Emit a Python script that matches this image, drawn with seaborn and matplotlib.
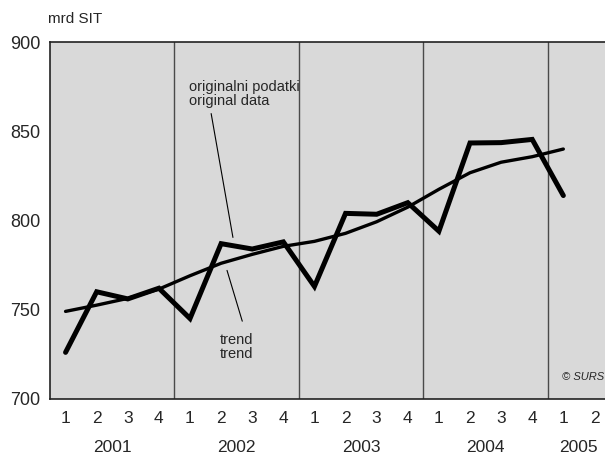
import numpy as np
import pandas as pd
import matplotlib
matplotlib.use("Agg")
import matplotlib.pyplot as plt
import matplotlib.transforms as mtransforms
import seaborn as sns

years = ["2001", "2002", "2003", "2004", "2005"]
quarters = ["1", "2", "3", "4", "1", "2", "3", "4", "1", "2", "3", "4",
            "1", "2", "3", "4", "1", "2"]
original = [726, 760, 756, 762, 745, 787, 784, 788, 763, 804, 803.5, 810,
            794, 843.5, 843.7, 845.5, 814]
trend = [749, 752.5, 756.3, 761.5, 769, 776, 781, 785.5, 788.3, 792.8, 799.3,
         807.5, 817.5, 826.8, 832.7, 835.8, 840.1]

sns.set_style("white")
plt.rcParams['font.family'] = ['Liberation Sans', 'DejaVu Sans']

df = pd.DataFrame({"pos": np.arange(len(original)), "original": original, "trend": trend})

fig = plt.figure(figsize=(6.05, 4.57), dpi=100)
ax = fig.add_axes([50/605, (457-398.7)/457, (610-50)/605, 356.4/457])
ax.set_facecolor("#d9d9d9")

sns.lineplot(data=df, x="pos", y="trend", ax=ax, color="black", lw=2.4,
             solid_joinstyle="miter", zorder=3)
sns.lineplot(data=df, x="pos", y="original", ax=ax, color="black", lw=3.6,
             solid_joinstyle="miter", zorder=4)

ax.set_xlim(-0.5, 17.5)
ax.set_ylim(700, 900)
ax.set_xlabel("")
ax.set_ylabel("")

# year dividers
for d in [3.5, 7.5, 11.5, 15.5]:
    ax.axvline(d, color="#4a4a4a", lw=1.0, zorder=2)

for s in ["left", "top", "bottom"]:
    ax.spines[s].set_color("#222222")
    ax.spines[s].set_linewidth(1.2)
ax.spines["right"].set_visible(False)

ax.set_yticks([700, 750, 800, 850, 900])
ax.tick_params(axis="y", direction="out", length=6, width=1, color="#444444",
               labelsize=13, pad=1)

ax.set_xticks(np.arange(len(quarters)) + 0.5)
ax.set_xticklabels([])
ax.tick_params(axis="x", which="major", direction="in", length=7, width=1,
               color="#333333")
ax.set_xticks(np.arange(len(quarters)), minor=True)
ax.set_xticklabels(quarters, minor=True)
ax.tick_params(axis="x", which="minor", length=0, labelsize=12.5, pad=9)

trans = mtransforms.blended_transform_factory(ax.transData, fig.transFigure)
for i, y in enumerate(years):
    ax.text(i*4 + 1.5 if i < 4 else 16.5, 1 - 448/457, y, transform=trans,
            ha="center", va="center", fontsize=12.5)

fig.text(48/605, 1 - 19/457, "mrd SIT", fontsize=11, ha="left", va="center")

ax.text(3.97, 879, "originalni podatki\noriginal data", fontsize=10.5,
        ha="left", va="top", linespacing=1.05)
ax.plot([4.68, 5.38], [860, 790.5], color="black", lw=0.8)
ax.text(4.95, 737, "trend\ntrend", fontsize=10.5, ha="left", va="top", linespacing=1.05)
ax.plot([5.19, 5.68], [772, 743.5], color="black", lw=0.8)

ax.text(15.95, 712, "© SURS", fontsize=8, style="italic", ha="left", va="center")

fig.savefig("out.png", dpi=100)
